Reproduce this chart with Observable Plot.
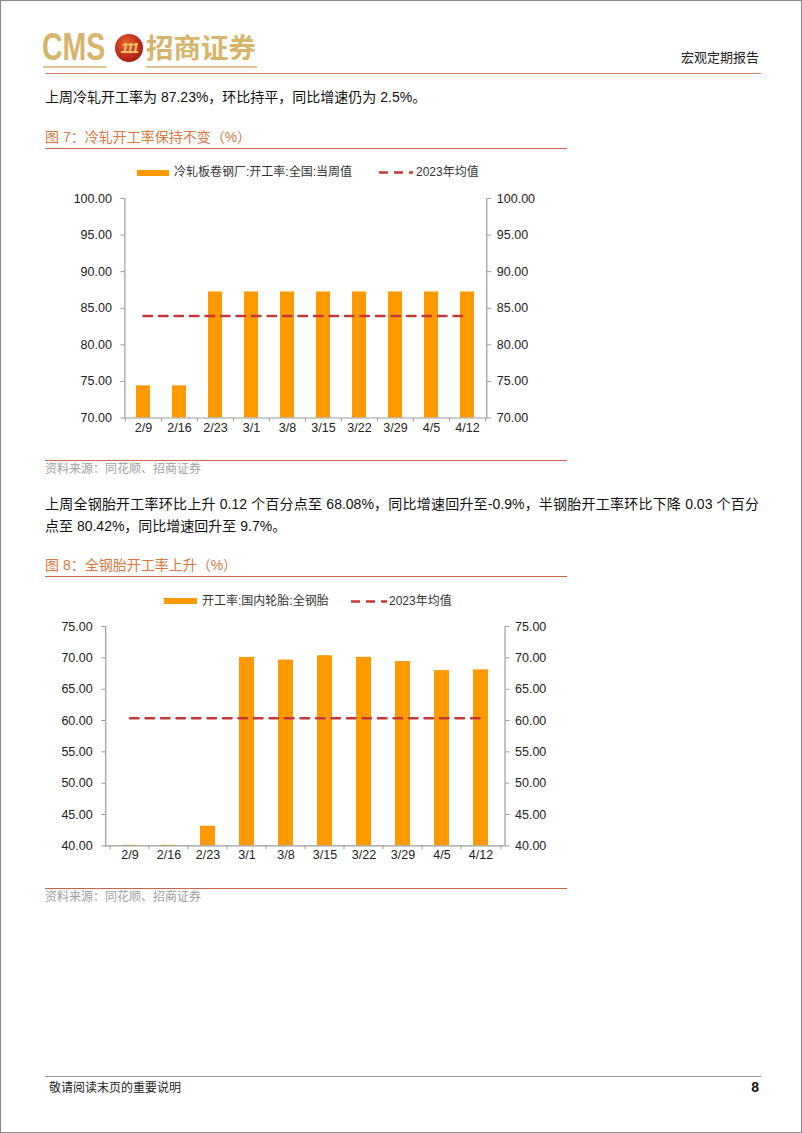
<!DOCTYPE html>
<html>
<head>
<meta charset="utf-8">
<script src="https://cdn.jsdelivr.net/npm/d3@7"></script>
<script src="https://cdn.jsdelivr.net/npm/@observablehq/plot@0.6"></script>
<style>
  html, body { margin: 0; padding: 0; background: #fff; }
  #page { position: relative; width: 802px; height: 1133px; box-sizing: border-box; border: 1px solid #8a8a8a; overflow: hidden;
          font-family: "Liberation Sans", Arial, "Noto Sans CJK SC", sans-serif; color: #111; }
  .abs { position: absolute; white-space: nowrap; }
  .gold { color: #d7b46c; }
  .hline { position: absolute; height: 0; }
  .body14 { font-size: 14px; line-height: 18px; color: #111; }
  .figtitle { font-size: 14px; line-height: 18px; color: #d6783f; }
  .source { font-size: 12px; line-height: 14px; color: #a0a0a0; }
  .leg { font-size: 12px; line-height: 14px; color: #333; }
</style>
</head>
<body>
<div id="page">
  <!-- header logo -->
  <div class="abs gold" style="left:41px;top:25px;font-size:39px;line-height:42px;font-weight:bold;transform:scaleX(0.73);transform-origin:left top;">CMS</div>
  <div class="abs" style="left:114px;top:33px;width:28px;height:28px;border-radius:50%;background:radial-gradient(circle at 40% 35%, #e8622a 0%, #b8261a 60%, #7a140e 100%);"></div>
  <div class="abs" style="left:116px;top:36px;width:24px;text-align:center;font-size:15px;line-height:22px;font-weight:bold;font-style:italic;color:#f2c46a;letter-spacing:-2px;">111</div>
  <div class="abs gold" style="left:145px;top:28px;font-size:27.5px;line-height:34px;font-weight:bold;font-family:'Noto Sans CJK SC',sans-serif;">招商证券</div>
  <div class="hline" style="left:42px;top:65px;width:63px;border-top:2px solid #dcc28c;"></div>
  <div class="hline" style="left:145px;top:65px;width:111px;border-top:2px solid #dcc28c;"></div>
  <div class="abs" style="right:42px;top:47px;font-size:13px;line-height:18px;color:#222;font-family:'Noto Sans CJK SC',sans-serif;">宏观定期报告</div>
  <div class="hline" style="left:44px;top:72px;width:716px;border-top:1px solid #d9806a;"></div>

  <!-- paragraph 1 -->
  <div class="abs body14" style="left:44px;top:87px;">上周冷轧开工率为 87.23%，环比持平，同比增速仍为 2.5%。</div>

  <!-- figure 7 -->
  <div class="abs figtitle" style="left:44px;top:127px;">图 7：冷轧开工率保持不变（%）</div>
  <div class="hline" style="left:44px;top:147px;width:522px;border-top:1.5px solid #c9664f;"></div>
  <div class="abs" style="left:135.5px;top:168.5px;width:32.5px;height:6px;background:#ff9900;"></div>
  <div class="abs leg" style="left:173px;top:164px;">冷轧板卷钢厂:开工率:全国:当周值</div>
  <svg class="abs" style="left:378px;top:169px;" width="36" height="5"><line x1="0" y1="2.5" x2="34" y2="2.5" stroke="#c0393b" stroke-width="2.5" stroke-dasharray="9,6"/></svg>
  <div class="abs leg" style="left:415px;top:164px;">2023年均值</div>
  <div id="chart1" class="abs" style="left:44px;top:185px;"></div>
  <div class="hline" style="left:44px;top:459px;width:522px;border-top:1.5px solid #c9664f;"></div>
  <div class="abs source" style="left:44px;top:461px;">资料来源：同花顺、招商证券</div>

  <!-- paragraph 2 -->
  <div class="abs body14" style="left:44px;top:494px;width:714px;text-align:justify;text-align-last:justify;white-space:normal;">上周全钢胎开工率环比上升 0.12 个百分点至 68.08%，同比增速回升至-0.9%，半钢胎开工率环比下降 0.03 个百分</div>
  <div class="abs body14" style="left:44px;top:516px;">点至 80.42%，同比增速回升至 9.7%。</div>

  <!-- figure 8 -->
  <div class="abs figtitle" style="left:44px;top:555px;">图 8：全钢胎开工率上升（%）</div>
  <div class="hline" style="left:44px;top:575px;width:522px;border-top:1.5px solid #c9664f;"></div>
  <div class="abs" style="left:163px;top:597px;width:33px;height:6px;background:#ff9900;"></div>
  <div class="abs leg" style="left:201px;top:593px;">开工率:国内轮胎:全钢胎</div>
  <svg class="abs" style="left:350px;top:597.5px;" width="38" height="5"><line x1="0" y1="2.5" x2="36" y2="2.5" stroke="#c0393b" stroke-width="2.5" stroke-dasharray="9,6"/></svg>
  <div class="abs leg" style="left:388px;top:593px;">2023年均值</div>
  <div id="chart2" class="abs" style="left:44px;top:613px;"></div>
  <div class="hline" style="left:44px;top:887px;width:522px;border-top:1.5px solid #c9664f;"></div>
  <div class="abs source" style="left:44px;top:889px;">资料来源：同花顺、招商证券</div>

  <!-- footer -->
  <div class="hline" style="left:44px;top:1075px;width:716px;border-top:1px solid #9a9a9a;"></div>
  <div class="abs" style="left:48px;top:1078px;font-size:12px;line-height:16px;color:#222;font-family:'Noto Sans CJK SC',sans-serif;">敬请阅读末页的重要说明</div>
  <div class="abs" style="right:42px;top:1077px;font-size:14px;line-height:18px;font-weight:bold;color:#111;">8</div>
</div>

<script>
// ---------- data ----------
const weeks = ["2/9", "2/16", "2/23", "3/1", "3/8", "3/15", "3/22", "3/29", "4/5", "4/12"];
const coldRolledRate = [74.4, 74.4, 87.23, 87.23, 87.23, 87.23, 87.23, 87.23, 87.23, 87.23];
const coldRolledAvg2023 = 83.95;
const steelTireRate = [40.1, 40.1, 43.13, 70.07, 69.64, 70.34, 70.08, 69.42, 67.96, 68.08];
const steelTireAvg2023 = 60.35;
const yTicks1 = [70, 75, 80, 85, 90, 95, 100];
const yTicks2 = [40, 45, 50, 55, 60, 65, 70, 75];

const BAR = "#ff9900";
const AVG = "#c0393b";
const AXIS = "#9c9c9c";

function makeChart(values, avg, yDomain, yTicks, dims) {
  const rows = weeks.map((w, i) => ({week: w, value: values[i], avg}));
  const innerW = dims.width - dims.marginLeft - dims.marginRight;
  const step = innerW / weeks.length;
  const fmt = d3.format(".2f");
  return Plot.plot({
    width: dims.width,
    height: dims.height,
    marginTop: dims.marginTop,
    marginBottom: dims.marginBottom,
    marginLeft: dims.marginLeft,
    marginRight: dims.marginRight,
    style: {fontFamily: "'Liberation Sans', Arial, 'Noto Sans CJK SC', sans-serif", fontSize: "12.5px", color: "#222", background: "transparent", overflow: "visible"},
    x: {type: "band", domain: weeks, paddingInner: 0.615, paddingOuter: 0.3075, align: 0.5},
    y: {domain: yDomain},
    marks: [
      Plot.barY(rows, {x: "week", y: "value", fill: BAR, clip: true}),
      Plot.lineY(rows, {x: "week", y: "avg", stroke: AVG, strokeWidth: 2.5, strokeDasharray: "8.5,7"}),
      Plot.frame({anchor: "left", stroke: AXIS, strokeWidth: 1.2}),
      Plot.frame({anchor: "right", stroke: AXIS, strokeWidth: 1.2}),
      Plot.ruleY([yDomain[0]], {stroke: AXIS, strokeWidth: 1.2}),
      Plot.axisY({anchor: "left", ticks: yTicks, tickFormat: fmt, tickSize: 4, tickPadding: 9, stroke: AXIS, fill: "#222", label: null}),
      Plot.axisY({anchor: "right", ticks: yTicks, tickFormat: fmt, tickSize: 4, tickPadding: 6, stroke: AXIS, fill: "#222", label: null}),
      Plot.axisX({ticks: weeks, tickSize: 0, tickPadding: dims.xPad, fill: "#222", label: null}),
      Plot.axisX({ticks: weeks, tickSize: 4, tickFormat: () => "", dx: -step / 2, stroke: AXIS, label: null}),
      Plot.axisX({ticks: [weeks[weeks.length - 1]], tickSize: 4, tickFormat: () => "", dx: step / 2, stroke: AXIS, label: null})
    ]
  });
}

document.getElementById("chart1").appendChild(
  makeChart(coldRolledRate, coldRolledAvg2023, [70, 100], yTicks1,
    {width: 522, height: 250, marginTop: 12, marginBottom: 18.5, marginLeft: 79.4, marginRight: 80.7, xPad: 5})
);
document.getElementById("chart2").appendChild(
  makeChart(steelTireRate, steelTireAvg2023, [40, 75], yTicks2,
    {width: 522, height: 250, marginTop: 12, marginBottom: 18.6, marginLeft: 60.2, marginRight: 62.5, xPad: 4})
);
</script>
</body>
</html>
